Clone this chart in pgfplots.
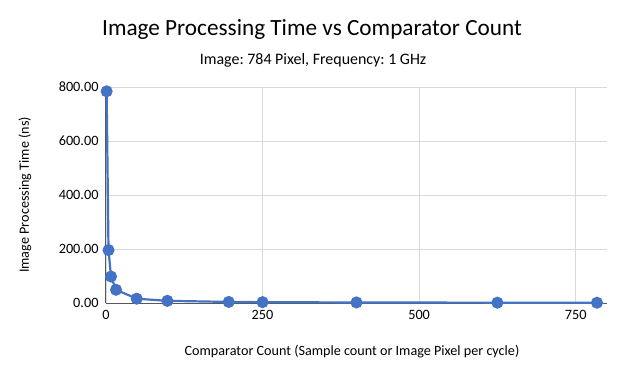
\documentclass[border=0pt]{standalone}
\usepackage{fontspec}
\setmainfont{Carlito}
\usepackage{pgfplots}
\pgfplotsset{compat=1.18}
\definecolor{xlblue}{HTML}{4472C4}
\definecolor{gridgray}{HTML}{D9D9D9}
\definecolor{axisgray}{HTML}{595959}
\definecolor{txt}{HTML}{000000}
\frenchspacing

\begin{document}
\begin{tikzpicture}[x=1bp,y=1bp]
\useasboundingbox (-106,-76) rectangle (518,303);
\begin{axis}[
    at={(0,0)}, anchor=origin,
    scale only axis,
    width=501bp, height=216bp,
    xmin=0, xmax=800,
    ymin=0, ymax=800,
    xtick={0,250,500,750},
    ytick={0,200,400,600,800},
    yticklabel style={/pgf/number format/fixed, /pgf/number format/fixed zerofill,
        /pgf/number format/precision=2, xshift=-4bp},
    /pgf/number format/assume math mode=true,
    tick label style={font=\fontsize{14.3}{16}\selectfont, text=txt},
    major tick length=0pt,
    xmajorgrids=true, ymajorgrids=true,
    grid style={gridgray, line width=0.9bp},
    axis line style={draw=none},
    axis x line*=bottom, axis y line*=left,
    xticklabel style={yshift=-4bp},
    clip=false,
]
\draw[axisgray, line width=1bp] (axis cs:0,0) -- (axis cs:800,0);
\draw[axisgray, line width=1bp] (axis cs:0,0) -- (axis cs:0,800);
\addplot[xlblue, line width=2.2bp, mark=*, mark size=4.9bp,
         mark options={fill=xlblue, draw=xlblue}] coordinates {
    (1,784) (4,196) (8,98) (16,49) (49,16) (98,8) (196,4)
    (250,3.14) (400,1.96) (625,1.25) (784,1)
};
\end{axis}
\node[font=\fontsize{23.3}{27}\selectfont] at (206,273) {Image Processing Time vs Comparator Count};
\node[font=\fontsize{16}{19}\selectfont] at (207,243) {Image: 784 Pixel, Frequency: 1 GHz};
\node[font=\fontsize{14.2}{16}\selectfont, rotate=90] at (-81,108) {Image Processing Time (ns)};
\node[font=\fontsize{14.2}{16}\selectfont] at (246,-49) {Comparator Count (Sample count or Image Pixel per cycle)};
\end{tikzpicture}
\end{document}
